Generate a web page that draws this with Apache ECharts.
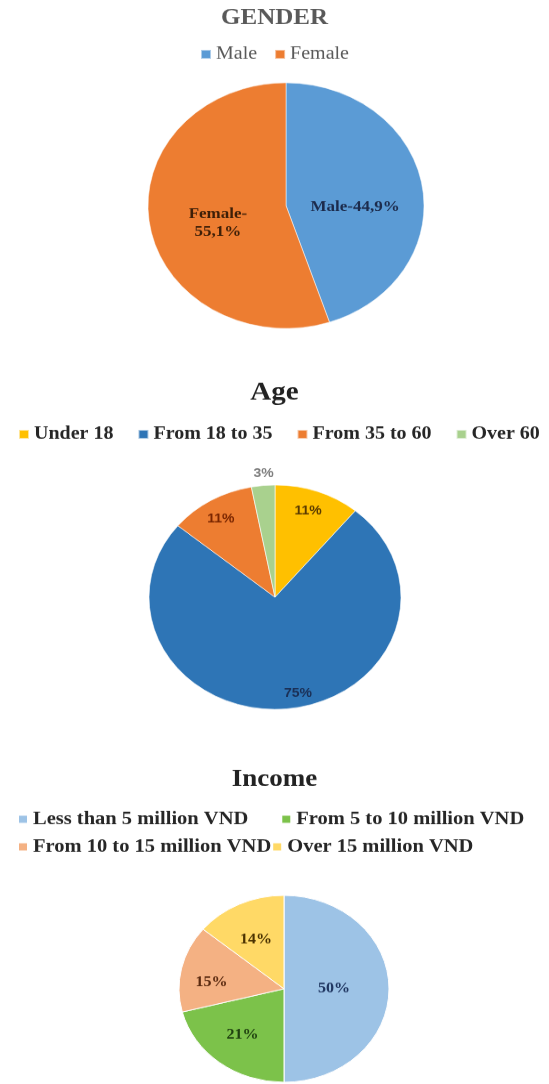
<!DOCTYPE html>
<html>
<head>
<meta charset="utf-8">
<script src="https://cdn.jsdelivr.net/npm/echarts@6/dist/echarts.min.js"></script>
<style>
html,body{margin:0;padding:0;background:#fff;overflow:hidden;}
#wrap{width:549px;height:1084px;overflow:hidden;position:relative;}
#chart{width:549px;height:1218px;transform:scaleY(0.89);transform-origin:0 0;}
</style>
</head>
<body>
<div id="wrap"><div id="chart"></div></div>
<script>
// ---- data ----
const genderTitle = 'GENDER';
const genderCategories = ['Male', 'Female'];
const genderValues = [44.9, 55.1];

const ageTitle = 'Age';
const ageCategories = ['Under 18', 'From 18 to 35', 'From 35 to 60', 'Over 60'];
const ageValues = [11, 75, 11, 3];

const incomeTitle = 'Income';
const incomeCategories = ['Less than 5 million VND', 'From 5 to 10 million VND', 'From 10 to 15 million VND', 'Over 15 million VND'];
const incomeValues = [50, 21, 15, 14];

// ---- styles ----
const genderColors = ['#5B9BD5', '#ED7D31'];
const genderLabelColors = ['#1c2b4c', '#3d1f08'];
const genderLabelShift = [[-2, 13], [3, 8]];
const ageColors = ['#FFC000', '#2E75B6', '#ED7D31', '#A9D18E'];
const ageLabelColors = ['#5a3b00', '#1b2f55', '#7a2600', '#7f7f7f'];
const ageLabelShift = [[-3, 3], [13, 2], [0, 4], [0, 2]];
const incomeColors = ['#9DC3E6', '#7CC24A', '#F4B183', '#FFD966'];
const incomeLabelColors = ['#1f3560', '#1f4010', '#5a2a10', '#4a3200'];
const incomeLabelShift = [[-16, 0], [-1, 0], [-8, 7], [0, 5]];

const SERIF = '"Liberation Serif", "Times New Roman", serif';
const SANS = '"Liberation Sans", Arial, sans-serif';

function pct(v) { return String(v).replace('.', ',') + '%'; }
function shiftBy(table) {
  return p => ({ dx: table[p.dataIndex][0], dy: table[p.dataIndex][1] });
}

const genderData = genderCategories.map((n, i) => ({
  name: n, value: genderValues[i],
  itemStyle: { color: genderColors[i] },
  label: { color: genderLabelColors[i] }
}));
const ageData = ageCategories.map((n, i) => ({
  name: n, value: ageValues[i], itemStyle: { color: ageColors[i] }
}));
const ageLabelData = ageCategories.map((n, i) => {
  const d = { name: n, value: ageValues[i], label: { color: ageLabelColors[i] } };
  if (i === ageCategories.length - 1) {
    d.label.position = 'outside';
    d.labelLine = { show: false, length: 15, length2: -17 };
  }
  return d;
});
const incomeData = incomeCategories.map((n, i) => ({
  name: n, value: incomeValues[i], itemStyle: { color: incomeColors[i] }
}));
const incomeLabelData = incomeCategories.map((n, i) => ({
  name: n, value: incomeValues[i], label: { color: incomeLabelColors[i] }
}));

const transparent = { color: 'rgba(0,0,0,0)', borderWidth: 0 };

const option = {
  backgroundColor: '#ffffff',
  animation: false,
  title: [
    { text: genderTitle, left: 'center', top: 8, padding: 0,
      textStyle: { fontFamily: SERIF, fontWeight: 'bold', fontSize: 25, color: '#595959' } },
    { text: ageTitle, left: 'center', top: 427, padding: 0,
      textStyle: { fontFamily: SERIF, fontWeight: 'bold', fontSize: 29, color: '#222222' } },
    { text: incomeTitle, left: 'center', top: 863, padding: 0,
      textStyle: { fontFamily: SERIF, fontWeight: 'bold', fontSize: 27, color: '#222222' } }
  ],
  legend: [
    { data: genderCategories, left: 'center', top: 51, padding: 0, icon: 'rect',
      itemWidth: 10, itemHeight: 10, itemGap: 17, selectedMode: false,
      textStyle: { fontFamily: SERIF, fontSize: 20, color: '#595959' } },
    { data: ageCategories, left: 18, top: 478, padding: 0, icon: 'rect',
      itemWidth: 10, itemHeight: 10, itemGap: 24, selectedMode: false,
      textStyle: { fontFamily: SERIF, fontSize: 20, fontWeight: 'bold', color: '#262626' } },
    { data: incomeCategories.slice(0, 2), left: 17, top: 910, padding: 0, icon: 'rect',
      itemWidth: 10, itemHeight: 10, itemGap: 32, selectedMode: false,
      textStyle: { fontFamily: SERIF, fontSize: 20.5, fontWeight: 'bold', color: '#262626' } },
    { data: incomeCategories.slice(2), left: 17, top: 941, padding: 0, icon: 'rect',
      itemWidth: 10, itemHeight: 10, itemGap: 0, selectedMode: false,
      textStyle: { fontFamily: SERIF, fontSize: 20.5, fontWeight: 'bold', color: '#262626' } }
  ],
  series: [
    {
      type: 'pie', name: 'gender', center: [286, 231], radius: 138,
      startAngle: 90, clockwise: true, avoidLabelOverlap: false,
      itemStyle: { borderColor: 'rgba(255,255,255,0.5)', borderWidth: 1 },
      label: {
        show: true, position: 'inside',
        fontFamily: SERIF, fontWeight: 'bold', fontSize: 17, lineHeight: 20,
        formatter: p => p.name + '-' + (p.dataIndex === 1 ? '\n' : '') + pct(p.value)
      },
      labelLine: { show: false },
      labelLayout: shiftBy(genderLabelShift),
      data: genderData
    },
    {
      type: 'pie', name: 'age', center: [275, 671], radius: 126,
      startAngle: 90, clockwise: true, avoidLabelOverlap: false,
      itemStyle: { borderColor: 'rgba(255,255,255,0.6)', borderWidth: 1 },
      label: { show: false }, labelLine: { show: false },
      data: ageData
    },
    {
      type: 'pie', name: 'incomeMain', center: [284, 1111], radius: 105,
      startAngle: 90, clockwise: true, avoidLabelOverlap: false,
      itemStyle: { borderColor: '#ffffff', borderWidth: 1 },
      label: { show: false }, labelLine: { show: false },
      data: incomeData
    },
    {
      type: 'pie', name: 'ageLabels', center: [275, 671], radius: [81, 126],
      startAngle: 90, clockwise: true, avoidLabelOverlap: false, silent: true,
      itemStyle: transparent, emphasis: { disabled: true },
      label: { show: true, position: 'inside', fontFamily: SANS, fontWeight: 'bold', fontSize: 14,
        formatter: p => p.value + '%' },
      labelLine: { show: false },
      labelLayout: shiftBy(ageLabelShift),
      data: ageLabelData
    },
    {
      type: 'pie', name: 'incomeLabels', center: [284, 1111], radius: [21, 105],
      startAngle: 90, clockwise: true, avoidLabelOverlap: false, silent: true,
      itemStyle: transparent, emphasis: { disabled: true },
      label: { show: true, position: 'inside', fontFamily: SERIF, fontWeight: 'bold', fontSize: 16,
        formatter: p => p.value + '%' },
      labelLine: { show: false },
      labelLayout: shiftBy(incomeLabelShift),
      data: incomeLabelData
    }
  ]
};

const chart = echarts.init(document.getElementById('chart'), null, { renderer: 'canvas' });
chart.setOption(option);
</script>
</body>
</html>
